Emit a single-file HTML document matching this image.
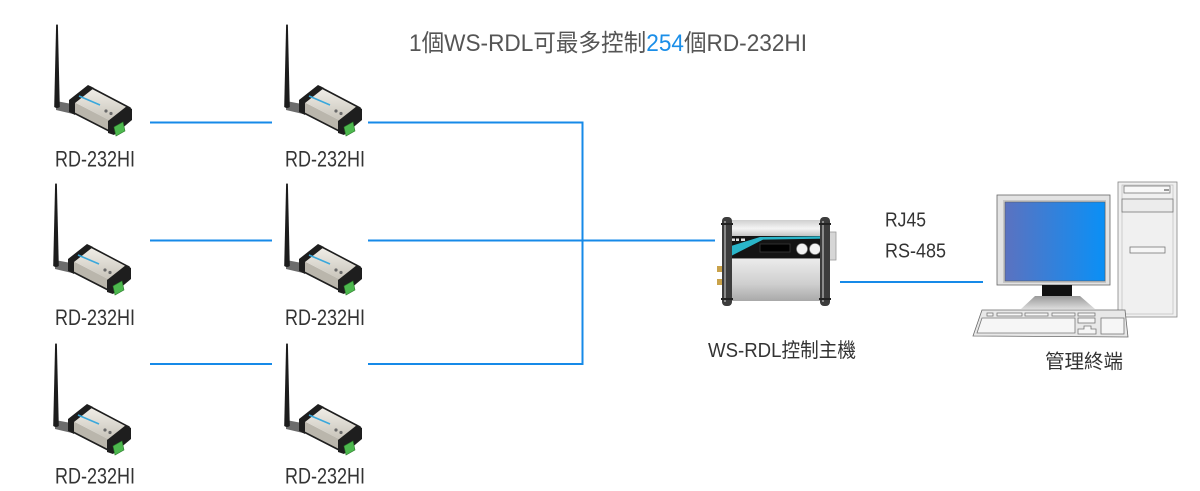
<!DOCTYPE html>
<html>
<head>
<meta charset="utf-8">
<style>
  html,body{margin:0;padding:0;background:#fff;}
  body{width:1200px;height:491px;overflow:hidden;}
  svg{display:block;}
  text{font-family:"Liberation Sans","Noto Sans CJK TC",sans-serif;}
</style>
</head>
<body>
<svg width="1200" height="491" viewBox="0 0 1200 491" xmlns="http://www.w3.org/2000/svg">
  <defs>
    <linearGradient id="alu" x1="0" y1="0" x2="0" y2="1">
      <stop offset="0" stop-color="#f3f0ea"/>
      <stop offset="1" stop-color="#c6c2b8"/>
    </linearGradient>
    <linearGradient id="scr" x1="0" y1="0" x2="1" y2="0">
      <stop offset="0" stop-color="#5b72c0"/>
      <stop offset="1" stop-color="#0a90f6"/>
    </linearGradient>
    <linearGradient id="topband" x1="0" y1="0" x2="0" y2="1">
      <stop offset="0" stop-color="#cfcfcf"/>
      <stop offset="0.5" stop-color="#f4f4f4"/>
      <stop offset="1" stop-color="#bdbdbd"/>
    </linearGradient>
    <linearGradient id="lower" x1="0" y1="0" x2="0" y2="1">
      <stop offset="0" stop-color="#ececec"/>
      <stop offset="0.6" stop-color="#cfcfcf"/>
      <stop offset="1" stop-color="#a9a9a9"/>
    </linearGradient>
    <linearGradient id="base" x1="0" y1="0" x2="0" y2="1">
      <stop offset="0" stop-color="#9a9a9a"/>
      <stop offset="1" stop-color="#dcdcdc"/>
    </linearGradient>
    <g id="dev">
      <!-- hinge -->
      <polygon points="-1,76 15,79 16,89 -1,85" fill="#6c6c6c"/>
      <!-- antenna -->
      <path d="M-0.9,0 Q0,-1.2 0.9,0 L2.8,82 Q0,84 -2.8,82 Z" fill="#1c1c1c"/>
      <!-- box faces -->
      <polygon points="15,76 56,97 56,108 15,87" fill="#bab6ac"/>
      <polygon points="56,97 73,83 73,94 56,108" fill="#8d8981"/>
      <polygon points="15,76 33,62 73,83 56,97" fill="url(#alu)"/>
      <polygon points="15,76 33,62 73,83 73,94 56,108 15,87" fill="none" stroke="#1e1e1e" stroke-width="1.6" stroke-linejoin="round"/>
      <!-- end caps -->
      <polygon points="12,75 31,60 37,63 18,78 18,90 12,87" fill="#1e1e1e"/>
      <polygon points="51,96 70,81 75,84 75,95 57,110 51,108" fill="#1e1e1e"/>
      <!-- stripe & buttons -->
      <line x1="22" y1="71" x2="43" y2="80" stroke="#3aa8dc" stroke-width="1.6"/>
      <circle cx="49" cy="86" r="1.6" fill="#6a6a6a"/>
      <circle cx="54" cy="88.5" r="1.6" fill="#6a6a6a"/>
      <!-- green terminal -->
      <polygon points="57,102 66,97 68,106 59,111" fill="#4db84e" stroke="#2a7a2a" stroke-width="0.6"/>
    </g>
  </defs>

  <!-- connector lines -->
  <g fill="#168ae8">
    <rect x="150" y="121.5" width="122" height="2"/>
    <rect x="368" y="121.5" width="215.5" height="2"/>
    <rect x="150" y="239.5" width="122" height="2"/>
    <rect x="368" y="239.5" width="347" height="2"/>
    <rect x="150" y="363" width="122" height="2"/>
    <rect x="368" y="363" width="215.5" height="2"/>
    <rect x="581.5" y="121.5" width="2" height="243.5"/>
    <rect x="840" y="281" width="143" height="2"/>
  </g>

  <!-- RD-232HI devices -->
  <use href="#dev" transform="translate(57,25)"/>
  <use href="#dev" transform="translate(287,25)"/>
  <use href="#dev" transform="translate(56,184)"/>
  <use href="#dev" transform="translate(287,184)"/>
  <use href="#dev" transform="translate(56,344)"/>
  <use href="#dev" transform="translate(287,344)"/>

  <!-- RD labels -->
  <g fill="#333" font-size="22">
    <text x="55" y="166.5" textLength="80" lengthAdjust="spacingAndGlyphs">RD-232HI</text>
    <text x="285" y="166.5" textLength="80" lengthAdjust="spacingAndGlyphs">RD-232HI</text>
    <text x="55" y="325" textLength="80" lengthAdjust="spacingAndGlyphs">RD-232HI</text>
    <text x="285" y="325" textLength="80" lengthAdjust="spacingAndGlyphs">RD-232HI</text>
    <text x="55" y="483.5" textLength="80" lengthAdjust="spacingAndGlyphs">RD-232HI</text>
    <text x="285" y="483.5" textLength="80" lengthAdjust="spacingAndGlyphs">RD-232HI</text>
  </g>

  <!-- title -->
  <text x="409" y="51" font-size="24" fill="#555" textLength="398" lengthAdjust="spacingAndGlyphs">1個WS-RDL可最多控制<tspan fill="#1a8ee8">254</tspan>個RD-232HI</text>

  <!-- WS-RDL controller -->
  <g>
    <rect x="828" y="232" width="8" height="28" fill="#d6d6d6" stroke="#9a9a9a" stroke-width="0.8"/>
    <rect x="717" y="266" width="6" height="6" fill="#c9a24a"/>
    <rect x="717" y="279" width="6" height="6" fill="#c9a24a"/>
    <rect x="726" y="220" width="100" height="17" fill="url(#topband)"/>
    <rect x="727" y="236" width="99" height="22" fill="#141414"/>
    <polygon points="731,246 760,237 826,236.3 826,238.6 763,239.6 731,256" fill="#2ab5c9"/>
    <rect x="732" y="238.5" width="3" height="2.5" fill="#ddd"/>
    <rect x="736" y="238.5" width="3" height="2.5" fill="#ddd"/>
    <rect x="741" y="238.5" width="4" height="2.5" fill="#ddd"/>
    <rect x="760" y="244" width="30" height="8" fill="#020202" stroke="#3a3a3a" stroke-width="0.8"/>
    <circle cx="802" cy="249" r="5.5" fill="#f2f2f2" stroke="#888" stroke-width="0.6"/>
    <circle cx="815" cy="249" r="5.5" fill="#f2f2f2" stroke="#888" stroke-width="0.6"/>
    <rect x="727" y="258" width="99" height="43" fill="url(#lower)"/>
    <line x1="727" y1="258.5" x2="826" y2="258.5" stroke="#8a8a8a" stroke-width="1"/>
    <rect x="722" y="217" width="10" height="89" rx="4" fill="#3c3c3c"/>
    <rect x="724" y="221" width="2" height="81" fill="#8a8a8a"/>
    <rect x="820" y="217" width="10" height="89" rx="4" fill="#3c3c3c"/>
    <rect x="822" y="221" width="2" height="81" fill="#8a8a8a"/>
    <rect x="721" y="223" width="12" height="2" fill="#222"/>
    <rect x="721" y="298" width="12" height="2" fill="#222"/>
    <rect x="819" y="223" width="12" height="2" fill="#222"/>
    <rect x="819" y="298" width="12" height="2" fill="#222"/>
  </g>

  <text x="708" y="357" font-size="20" fill="#333" textLength="148" lengthAdjust="spacingAndGlyphs">WS-RDL控制主機</text>
  <text x="885" y="226.5" font-size="20" fill="#333" textLength="41" lengthAdjust="spacingAndGlyphs">RJ45</text>
  <text x="885" y="257.5" font-size="20" fill="#333" textLength="61" lengthAdjust="spacingAndGlyphs">RS-485</text>

  <!-- computer -->
  <g stroke-width="0.8">
    <!-- tower -->
    <rect x="1118" y="182" width="59" height="135" fill="#f0f0f0" stroke="#858585"/>
    <rect x="1122" y="185" width="51" height="129" fill="none" stroke="#c2c2c2"/>
    <rect x="1124" y="186" width="46" height="7" fill="#f8f8f8" stroke="#777"/>
    <rect x="1164" y="189" width="5" height="2" fill="#999"/>
    <rect x="1122" y="199" width="51" height="13" fill="#ececec" stroke="#777"/>
    <rect x="1130" y="247" width="35" height="6" fill="#f6f6f6" stroke="#777"/>
    <!-- monitor -->
    <rect x="997" y="195" width="113" height="90" fill="#e3e3e3" stroke="#666"/>
    <rect x="1003" y="200" width="103" height="83" fill="#c6c6c6"/>
    <rect x="1005" y="202" width="100" height="79" fill="url(#scr)" stroke="#555" stroke-width="0.5"/>
    <rect x="1042" y="285" width="30" height="11" fill="#111"/>
    <polygon points="1035,296 1080,296 1095,309 1021,309" fill="url(#base)"/>
    <!-- keyboard -->
    <polygon points="982,310 1125,310 1128,337 973,336" fill="#e8e8e8" stroke="#6a6a6a"/>
    <g fill="#f6f6f6" stroke="#777">
      <rect x="987" y="313" width="6" height="3"/>
      <rect x="997" y="313" width="25" height="3"/>
      <rect x="1025" y="313" width="23" height="3"/>
      <rect x="1052" y="313" width="23" height="3"/>
      <rect x="1078" y="313" width="17" height="3"/>
      <polygon points="982,318 1075,318 1075,333 977,333"/>
      <rect x="1078" y="318" width="17" height="5"/>
      <polygon points="1084,326 1091,326 1091,329 1096,329 1096,334 1078,334 1078,329 1084,329"/>
      <rect x="1101" y="318" width="23" height="16"/>
    </g>
  </g>

  <text x="1045" y="368" font-size="19.5" fill="#333" textLength="78" lengthAdjust="spacingAndGlyphs">管理終端</text>
</svg>
</body>
</html>
